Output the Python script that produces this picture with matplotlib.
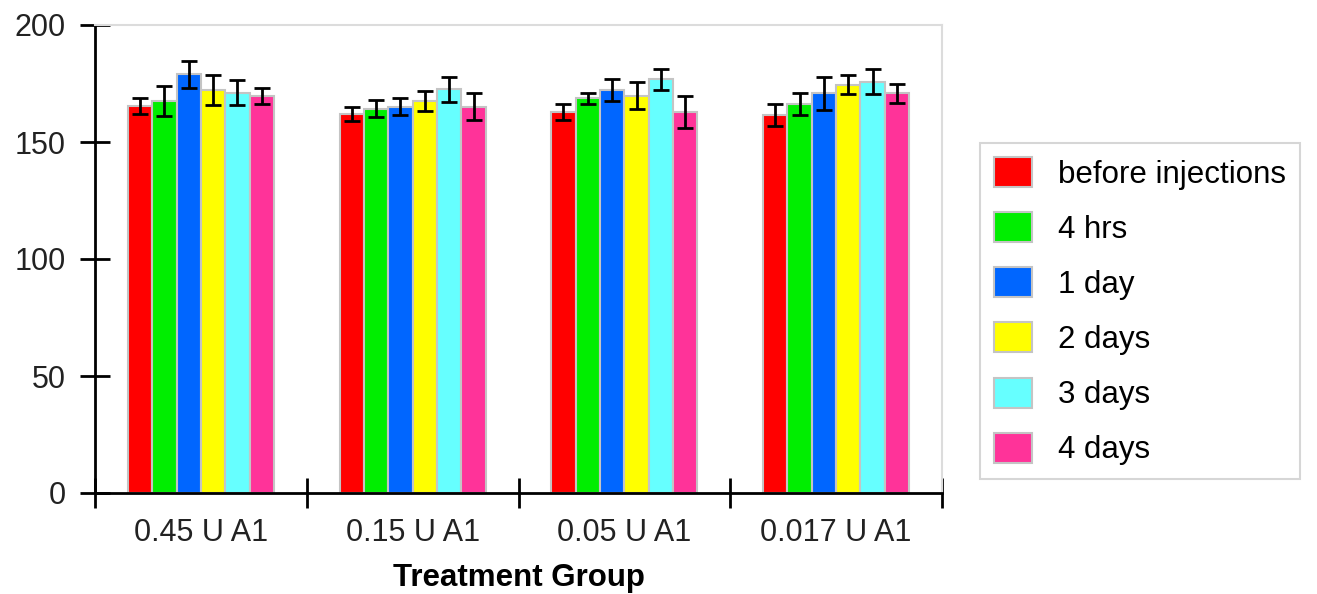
import numpy as np
import matplotlib
matplotlib.use("Agg")
import matplotlib.pyplot as plt

plt.rcParams['font.family'] = ['Liberation Sans', 'DejaVu Sans']

groups = ["0.45 U A1", "0.15 U A1", "0.05 U A1", "0.017 U A1"]
series = ["before injections", "4 hrs", "1 day", "2 days", "3 days", "4 days"]
colors = ["#ff0000", "#00ee00", "#0066ff", "#ffff00", "#66ffff", "#ff3399"]

# mean values per series (rows) for each group (columns)
before = [165.4, 162.0, 162.8, 161.5]
hrs4 = [167.7, 164.2, 168.7, 166.2]
day1 = [179.0, 165.1, 172.2, 170.8]
days2 = [172.2, 167.5, 169.7, 174.4]
days3 = [171.0, 172.5, 176.8, 175.8]
days4 = [169.7, 165.1, 162.8, 170.8]

# error bar half-lengths
before_err = [3.5, 2.9, 3.6, 4.7]
hrs4_err = [6.4, 3.6, 2.4, 4.8]
day1_err = [5.8, 3.5, 4.7, 7.0]
days2_err = [6.3, 4.2, 5.8, 4.1]
days3_err = [5.3, 5.2, 4.5, 5.3]
days4_err = [3.3, 5.9, 6.9, 4.1]

means = [before, hrs4, day1, days2, days3, days4]
errs = [before_err, hrs4_err, day1_err, days2_err, days3_err, days4_err]

fig = plt.figure(figsize=(13.17, 5.94), dpi=100)
ax = fig.add_axes([95/1317, 1-493/594, (942-95)/1317, (493-25)/594])

x = np.arange(len(groups))
w = 0.115
for i in range(len(series)):
    pos = x + (i - 2.5) * w
    ax.bar(pos, means[i], width=w, color=colors[i], edgecolor="#c4c4c4",
           linewidth=1.5, label=series[i], zorder=2)
    ax.errorbar(pos, means[i], yerr=errs[i], fmt="none", ecolor="black",
                elinewidth=2, capsize=6, capthick=2, zorder=3)

ax.set_xlim(-0.5, 3.5)
ax.set_ylim(0, 200)
ax.set_yticks([0, 50, 100, 150, 200])
ax.set_xticks([-0.5, 0.5, 1.5, 2.5, 3.5])
ax.set_xticklabels([])
ax.set_xticks(x, minor=True)
ax.set_xticklabels(groups, minor=True)
ax.tick_params(axis="x", which="minor", length=0, pad=18, labelsize=22, labelcolor="#222222")
ax.tick_params(axis="x", which="major", direction="inout", length=22, width=2)
ax.tick_params(axis="y", direction="inout", length=22, width=2, pad=10,
               labelsize=22, labelcolor="#222222")

for s in ["left", "bottom"]:
    ax.spines[s].set_linewidth(2)
    ax.spines[s].set_color("black")
for s in ["top", "right"]:
    ax.spines[s].set_linewidth(1.5)
    ax.spines[s].set_color("#dcdcdc")

ax.set_xlabel("Treatment Group", fontsize=22.5, fontweight="bold", labelpad=11)

leg = fig.legend(loc="upper left", bbox_to_anchor=(980/1317, 1-143/594),
                 fontsize=22.5, frameon=True, fancybox=False, edgecolor="#cccccc",
                 handlelength=1.2, handleheight=1.1, handletextpad=0.85,
                 labelspacing=0.72, borderpad=0.45, borderaxespad=0)
leg.get_frame().set_linewidth(1.5)

fig.savefig("out.png", dpi=100)
